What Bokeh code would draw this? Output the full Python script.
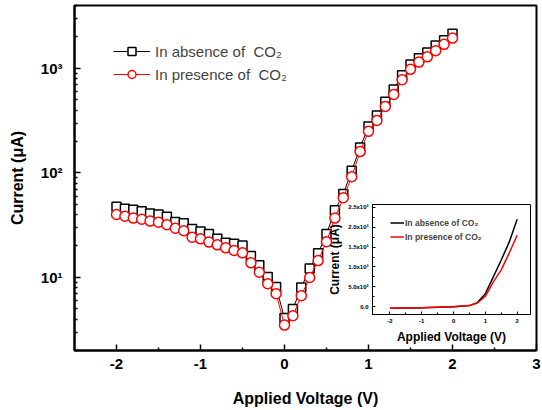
from bokeh.plotting import figure
from bokeh.models import Range1d, FixedTicker, Legend, LegendItem
from bokeh.layouts import column
from bokeh.embed import file_html
from bokeh.resources import INLINE

# ---------------- data ----------------
voltage = [-2.0, -1.9, -1.8, -1.7, -1.6, -1.5, -1.4, -1.3, -1.2, -1.1,
           -1.0, -0.9, -0.8, -0.7, -0.6, -0.5, -0.4, -0.3, -0.2, -0.1,
           0.0, 0.1, 0.2, 0.3, 0.4, 0.5, 0.6, 0.7, 0.8, 0.9,
           1.0, 1.1, 1.2, 1.3, 1.4, 1.5, 1.6, 1.7, 1.8, 1.9, 2.0]
current_absence = [47.5, 45.5, 44.5, 43, 41, 40, 38, 34, 33, 29,
                   27.5, 26, 23.5, 21.5, 21, 20.2, 16, 13.1, 10.1, 8.1,
                   4.1, 5.0, 8.0, 12.2, 17, 26, 44, 63, 105, 175,
                   278, 355, 480, 630, 860, 1090, 1250, 1420, 1660, 1860, 2150]
current_presence = [40, 38.5, 37, 36, 34.6, 33.8, 32, 29.6, 28, 24.3,
                    23.4, 21.8, 20.5, 19.2, 18.1, 17.2, 13.8, 11.2, 8.7, 7.0,
                    3.5, 4.3, 6.7, 10, 14.5, 22, 37, 58, 92, 160,
                    250, 318, 433, 563, 780, 980, 1150, 1290, 1480, 1700, 1950]

inset_voltage = [-2.0, -1.0, 0.0, 0.5, 0.75, 1.0, 1.25, 1.5, 1.75, 2.0]
inset_absence = [-45, -30, -5, 25, 100, 325, 750, 1175, 1625, 2200]
inset_presence = [-45, -30, -5, 25, 90, 260, 625, 925, 1350, 1800]

main_x_labels = {-2: "-2", -1: "-1", 0: "0", 1: "1", 2: "2", 3: "3"}
main_y_labels = {10: "10\u00b9", 100: "10\u00b2", 1000: "10\u00b3"}
inset_y_labels = {0: "0.0", 500: "5.0x10\u00b2", 1000: "1.0x10\u00b3",
                  1500: "1.5x10\u00b3", 2000: "2.0x10\u00b3", 2500: "2.5x10\u00b3"}
inset_x_labels = {-2: "-2", -1: "-1", 0: "0", 1: "1", 2: "2"}

FONT = "Liberation Sans"

# ---------------- main figure ----------------
p = figure(width=542, height=410, x_range=Range1d(-2.5, 3), y_range=Range1d(2, 4000),
           y_axis_type="log", output_backend="svg", toolbar_location=None,
           min_border_left=74, min_border_right=6, min_border_top=5, min_border_bottom=60)
p.grid.visible = False
p.outline_line_color = "black"
p.outline_line_width = 2
p.background_fill_color = "white"

l1 = p.line(voltage, current_absence, line_color="black", line_width=1)
s1 = p.scatter(voltage, current_absence, marker="square", size=9, line_color="black",
               fill_color="white", line_width=1.5)
l2 = p.line(voltage, current_presence, line_color="red", line_width=1)
s2 = p.scatter(voltage, current_presence, marker="circle", size=10, line_color="red",
               fill_color="white", line_width=1.5)

p.xaxis.ticker = FixedTicker(ticks=list(main_x_labels.keys()),
                             minor_ticks=[-2.5, -1.5, -0.5, 0.5, 1.5, 2.5])
p.xaxis.major_label_overrides = main_x_labels
p.yaxis.ticker = FixedTicker(ticks=list(main_y_labels.keys()),
                             minor_ticks=[d * m for d in (1, 10, 100, 1000) for m in range(2, 10)])
p.yaxis.major_label_overrides = main_y_labels

for ax in (p.xaxis, p.yaxis):
    ax.axis_line_width = 2
    ax.major_tick_in = 6
    ax.major_tick_out = 0
    ax.minor_tick_in = 3
    ax.minor_tick_out = 0
    ax.major_tick_line_width = 1.5
    ax.minor_tick_line_width = 1.5
    ax.major_tick_line_color = "black"
    ax.minor_tick_line_color = "black"
    ax.major_label_text_font = FONT
    ax.major_label_text_font_style = "bold"
    ax.major_label_text_font_size = "15px"
    ax.major_label_text_color = "black"
    ax.axis_label_text_font = FONT
    ax.axis_label_text_font_style = "bold"
    ax.axis_label_text_font_size = "16px"
    ax.axis_label_text_color = "black"

p.xaxis.axis_label = "Applied Voltage (V)"
p.yaxis.axis_label = "Current (\u03bcA)"
p.xaxis.major_label_standoff = 8
p.xaxis.axis_label_standoff = 18
p.yaxis.major_label_standoff = 12
p.yaxis.axis_label_standoff = 12

legend = Legend(items=[LegendItem(label="In absence of  CO\u2082", renderers=[l1, s1]),
                       LegendItem(label="In presence of  CO\u2082", renderers=[l2, s2])],
                location=(39, 266), glyph_width=37, glyph_height=20, spacing=3,
                padding=0, margin=0, label_standoff=5,
                label_text_font=FONT, label_text_font_size="15px",
                border_line_alpha=0, background_fill_alpha=0)
p.add_layout(legend)

# ---------------- inset figure ----------------
ins = figure(width=238, height=148, x_range=Range1d(-2.55, 2.42), y_range=Range1d(-200, 2575),
             output_backend="svg", toolbar_location=None,
             min_border_left=42, min_border_right=4, min_border_top=6, min_border_bottom=30,
             margin=(-212, 0, 0, 298))
ins.grid.visible = False
ins.border_fill_alpha = 0
ins.background_fill_color = "white"
ins.outline_line_color = "black"
ins.outline_line_width = 1

il1 = ins.line(inset_voltage, inset_absence, line_color="black", line_width=1.5)
il2 = ins.line(inset_voltage, inset_presence, line_color="red", line_width=1.5)

ins.xaxis.ticker = FixedTicker(ticks=list(inset_x_labels.keys()), minor_ticks=[-1.5, -0.5, 0.5, 1.5])
ins.xaxis.major_label_overrides = inset_x_labels
ins.yaxis.ticker = FixedTicker(ticks=list(inset_y_labels.keys()),
                               minor_ticks=[250, 750, 1250, 1750, 2250])
ins.yaxis.major_label_overrides = inset_y_labels
for ax in (ins.xaxis, ins.yaxis):
    ax.axis_line_width = 1
    ax.major_tick_in = 3
    ax.major_tick_out = 0
    ax.minor_tick_in = 2
    ax.minor_tick_out = 0
    ax.major_label_text_font = FONT
    ax.major_label_text_font_style = "bold"
    ax.major_label_text_font_size = "6px"
    ax.major_label_text_color = "black"
    ax.axis_label_text_font = FONT
    ax.axis_label_text_font_style = "bold"
    ax.axis_label_text_font_size = "12px"
    ax.axis_label_text_color = "black"
ins.xaxis.axis_label = "Applied Voltage (V)"
ins.yaxis.axis_label = "Current (\u03bcA)"
ins.xaxis.major_label_standoff = 4
ins.xaxis.axis_label_standoff = 4
ins.yaxis.major_label_standoff = 4
ins.yaxis.axis_label_standoff = 3

ileg = Legend(items=[LegendItem(label="In absence of CO\u2082", renderers=[il1]),
                     LegendItem(label="In presence of CO\u2082", renderers=[il2])],
              location=(18, 71), glyph_width=14, glyph_height=13, spacing=1,
              padding=0, margin=0, label_standoff=1,
              label_text_font=FONT, label_text_font_style="bold", label_text_font_size="8.5px",
              border_line_alpha=0, background_fill_alpha=0)
ins.add_layout(ileg)

layout = column(p, ins, spacing=0)
open("out.html", "w").write(file_html(layout, INLINE))
